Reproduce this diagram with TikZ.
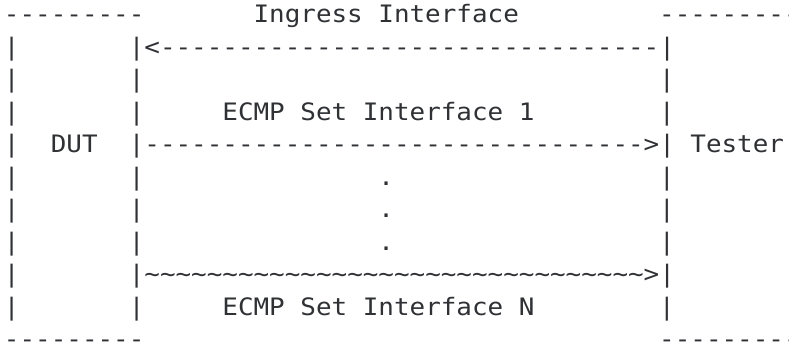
\documentclass[tikz,border=0pt]{standalone}
\usepackage{fontspec}
\setmonofont[FakeStretch=1.08]{DejaVu Sans Mono}
\definecolor{ink}{HTML}{2F3135}
\newcommand\Tn{\char"7E}
\newcommand\Tf{\Tn\Tn\Tn\Tn}
\newcommand\Tt{\Tf\Tf\Tf\Tf\Tf\Tf\Tf\Tf}
\tikzset{
  t/.style={anchor=base west, inner sep=0pt, outer sep=0pt, text=ink,
            font=\ttfamily\fontsize{24pt}{24pt}\selectfont}
}
\begin{document}
\begin{tikzpicture}[x=1pt,y=-1pt]
\useasboundingbox (0,0) rectangle (789,345);
\fill[white] (0,0) rectangle (789,345);
% row 1
\node[t] (dutTop) at (4,22.8) {---------};
\node[t] (ingress) at (253.6,22.8) {Ingress Interface};
\node[t] (testerTop) at (659.2,22.8) {---------};
% row 2
\node[t] (l2) at (4,55.3) {|};
\node[t] (arrIn) at (128.8,55.3) {|<--------------------------------|};
% row 3
\node[t] (l3) at (4,87.8) {|};
\node[t] (m3) at (128.8,87.8) {|};
\node[t] (r3) at (659.2,87.8) {|};
% row 4
\node[t] (l4) at (4,120.3) {|};
\node[t] (m4) at (128.8,120.3) {|};
\node[t] (ecmp1) at (222.4,120.3) {ECMP Set Interface 1};
\node[t] (r4) at (659.2,120.3) {|};
% row 5
\node[t] (l5) at (4,152.8) {|};
\node[t] (dut) at (50.8,152.8) {DUT};
\node[t] (arr1) at (128.8,152.8) {|-------------------------------->|};
\node[t] (tester) at (690.4,152.8) {Tester};
% rows 6-8
\node[t] (l6) at (4,185.3) {|};
\node[t] (m6) at (128.8,185.3) {|};
\node[t] (d6) at (378.4,185.3) {.};
\node[t] (r6) at (659.2,185.3) {|};
\node[t] (l7) at (4,217.8) {|};
\node[t] (m7) at (128.8,217.8) {|};
\node[t] (d7) at (378.4,217.8) {.};
\node[t] (r7) at (659.2,217.8) {|};
\node[t] (l8) at (4,250.3) {|};
\node[t] (m8) at (128.8,250.3) {|};
\node[t] (d8) at (378.4,250.3) {.};
\node[t] (r8) at (659.2,250.3) {|};
% row 9
\node[t] (l9) at (4,282.8) {|};
\node[t] (arrN) at (128.8,282.8) {|\Tt>|};
% row 10
\node[t] (l10) at (4,315.3) {|};
\node[t] (m10) at (128.8,315.3) {|};
\node[t] (ecmpN) at (222.4,315.3) {ECMP Set Interface N};
\node[t] (r10) at (659.2,315.3) {|};
% row 11
\node[t] (dutBot) at (4,347.8) {---------};
\node[t] (testerBot) at (659.2,347.8) {---------};
\end{tikzpicture}
\end{document}
